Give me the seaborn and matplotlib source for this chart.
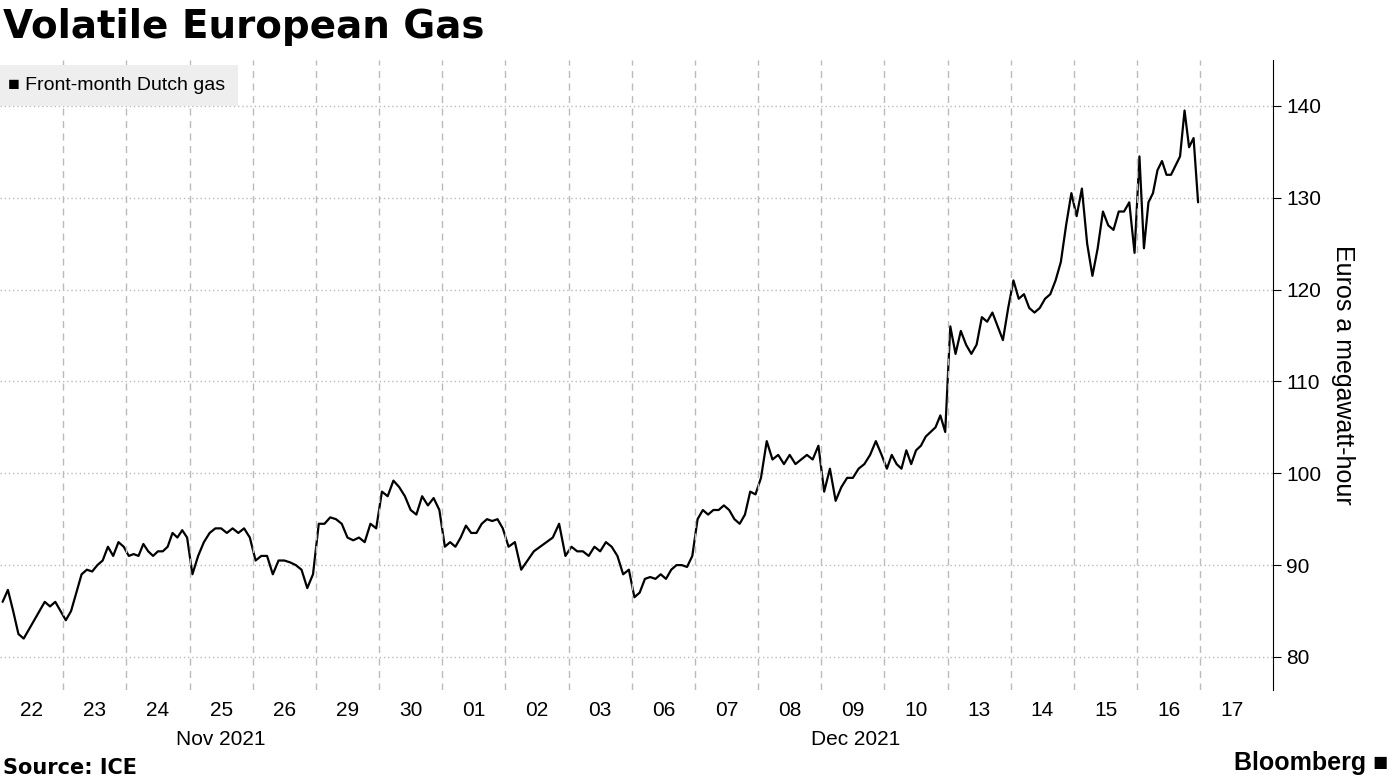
import matplotlib
matplotlib.use("Agg")
import matplotlib.pyplot as plt
import seaborn as sns
import pandas as pd

day_labels = ["22","23","24","25","26","29","30","01","02","03","06","07","08","09","10","13","14","15","16","17"]
day_values = [
 [86,87.3,85,82.5,82,83,84,85,86,85.5,86,85],
 [84,85,87,89,89.5,89.3,90,90.5,92,91,92.5,92],
 [91,91.2,91,92.3,91.5,91,91.5,91.5,92,93.5,93,93.8,93],
 [89,91,92.5,93.5,94,94,93.5,94,93.5,94,93],
 [90.5,91,91,89,90.5,90.5,90.3,90,89.5,87.5,89],
 [94.5,94.5,95.2,95,94.5,93,92.7,93,92.5,94.5,94],
 [98,97.5,99.2,98.5,97.5,96,95.5,97.5,96.5,97.3,96],
 [92,92.5,92,93,94.3,93.5,93.5,94.5,95,94.8,95,94],
 [92,92.5,89.5,90.5,91.5,92,92.5,93,94.5,91],
 [92,91.5,91.5,91,92,91.5,92.5,92,91,89,89.5],
 [86.5,87,88.5,88.7,88.5,89,88.5,89.5,90,90,89.8,91],
 [95,96,95.5,96,96,96.5,96,95,94.5,95.5,98,97.7],
 [99.5,103.5,101.5,102,101,102,101,101.5,102,101.5,103],
 [98,100.5,97,98.5,99.5,99.5,100.5,101,102,103.5,102],
 [100.5,102,101,100.5,102.5,101,102.5,103,104,104.5,105,106.3,104.5],
 [116,113,115.5,114,113,114,117,116.5,117.5,116,114.5,118],
 [121,119,119.5,118,117.5,118,119,119.5,121,123,127,130.5],
 [128,131,125,121.5,124.5,128.5,127,126.5,128.5,128.5,129.5,124],
 [134.5,124.5,129.5,130.5,133,134,132.5,132.5,133.5,134.5,139.5,135.5,136.5,129.5],
]

xs, ys = [], []
for d, vals in enumerate(day_values):
    n = len(vals)
    for i, v in enumerate(vals):
        xs.append(d + (i + 0.5) / n)
        ys.append(v)
df = pd.DataFrame({"t": xs, "price": ys})

sns.set_style("white")
plt.rcParams['font.family'] = ['Liberation Sans', 'DejaVu Sans']
plt.rcParams['text.color'] = 'black'
plt.rcParams['xtick.color'] = 'black'
plt.rcParams['ytick.color'] = 'black'
plt.rcParams['axes.labelcolor'] = 'black'
fig = plt.figure(figsize=(13.95, 7.84), dpi=100)
ax = fig.add_axes([0, 1 - 690/784, 1273/1395, 630/784])
sns.lineplot(data=df, x="t", y="price", color="black", lw=1.6, ax=ax)
ax.set_xlim(0, 20.15)
ax.set_ylim(76.4, 145)
ax.set_xticks([d + 0.5 for d in range(len(day_labels))])
ax.set_xticklabels(day_labels, fontsize=15)
ax.tick_params(axis='x', length=0, pad=8)
for d in range(1, 20):
    ax.axvline(d, color="#bbbbbb", ls=(0, (5, 4)), lw=1)
ax.set_yticks([80, 90, 100, 110, 120, 130, 140])
ax.yaxis.tick_right()
ax.tick_params(axis='y', labelsize=15, length=6, direction='out', color='black')
ax.grid(axis='y', color="#bbbbbb", ls=(0, (1, 2)), lw=1)
for s in ["top", "left", "bottom"]:
    ax.spines[s].set_visible(False)
ax.spines["right"].set_color("black")
ax.yaxis.set_label_position("right")
ax.set_ylabel("Euros a megawatt-hour", fontsize=18, rotation=270, labelpad=24)
ax.set_xlabel("")
ax.text(3.5, -0.063, "Nov 2021", transform=ax.get_xaxis_transform(), ha="center", va="top", fontsize=15)
ax.text(13.55, -0.063, "Dec 2021", transform=ax.get_xaxis_transform(), ha="center", va="top", fontsize=15)
fig.text(0.002, 0.99, "Volatile European Gas", fontsize=28, fontweight="bold", va="top",
         family=["DejaVu Sans"])
fig.text(0.006, 0.891, "■ Front-month Dutch gas", fontsize=14, va="center",
         bbox=dict(facecolor="#eeeeee", edgecolor="none", pad=9))
fig.text(0.002, 0.008, "Source: ICE", fontsize=15, fontweight="bold", va="bottom", family=["DejaVu Sans"])
fig.text(0.995, 0.012, "Bloomberg ■", fontsize=18, fontweight="bold", va="bottom", ha="right")
fig.savefig("out.png", dpi=100)
